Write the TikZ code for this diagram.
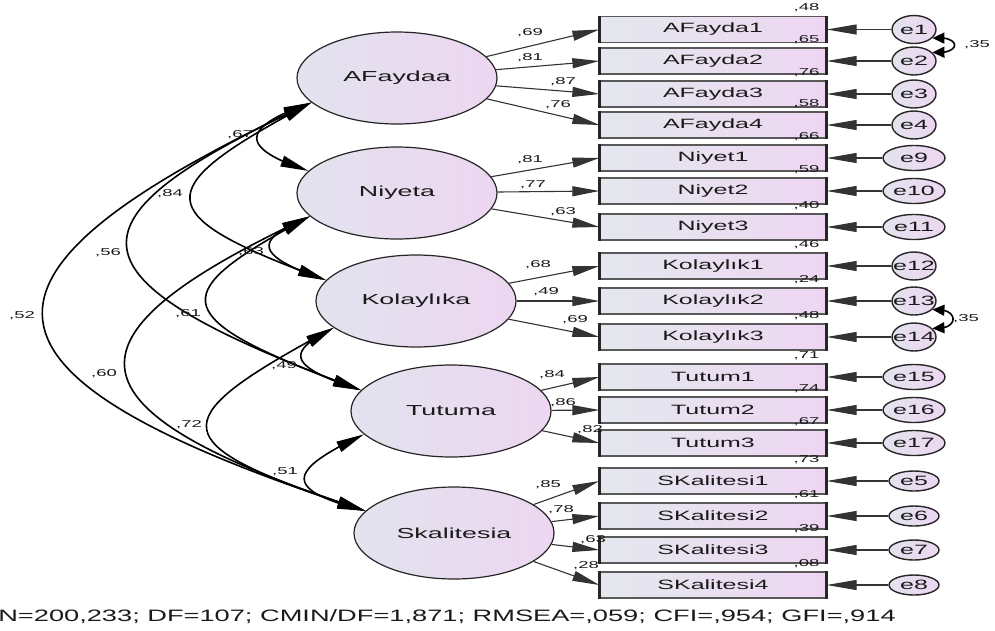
\documentclass[tikz,border=0pt]{standalone}
\usepackage{fontspec}
\usepackage{tikz}
\usetikzlibrary{arrows.meta,bending,shapes.geometric}
\newfontfamily\amos[FakeStretch=1.85]{Liberation Sans}
\newfontfamily\amosfoot[FakeStretch=1.65]{Liberation Sans}
\definecolor{latL}{HTML}{E2E3EE}
\definecolor{latR}{HTML}{EDD6F1}
\definecolor{boxL}{HTML}{E4E8EE}
\definecolor{boxR}{HTML}{EED6F2}
\definecolor{ink}{HTML}{1A1A1A}
\tikzset{
  latent/.style = {ellipse, draw=black!85, line width=1.2pt, inner sep=0pt,
                   minimum width=200pt, minimum height=92pt,
                   left color=latL, right color=latR, text=ink,
                   font=\amos\fontsize{14.5}{16}\selectfont},
  obsbox/.style = {rectangle, draw=black!65, line width=1.3pt, inner sep=0pt,
                   minimum width=226pt, minimum height=26pt,
                   left color=boxL, right color=boxR, text=ink,
                   font=\amos\fontsize{13.5}{15}\selectfont},
  errn/.style   = {ellipse, draw=black!85, line width=1.4pt, inner sep=0pt,
                   minimum width=44pt, minimum height=28pt,
                   left color=latL, right color=latR, text=ink,
                   font=\amos\fontsize{13.5}{15}\selectfont},
  errw/.style   = {errn, minimum width=62pt, minimum height=25pt},
  errs/.style   = {errn, minimum width=50pt, minimum height=20pt},
  lbl/.style    = {inner sep=0pt, text=ink, font=\amos\fontsize{10}{11}\selectfont},
  load/.style   = {-{Triangle[length=27pt,width=10pt]}, line width=1.1pt, draw=black!80},
  errarr/.style = {-{Triangle[length=30pt,width=10pt]}, line width=1.1pt, draw=black!80},
  cov/.style    = {{Triangle[length=28pt,width=11pt]}-{Triangle[length=28pt,width=11pt]},
                   line width=1.6pt},
  ecov/.style   = {{Triangle[length=12pt,width=11pt]}-{Triangle[length=12pt,width=11pt]},
                   line width=1.6pt},
}
\begin{document}
\begin{tikzpicture}[x=1pt, y=-1pt]
\useasboundingbox (0,0) rectangle (995,630);
% ---------------- latent variables ----------------
\node[latent] (AF) at (397,78)  {AFaydaa};
\node[latent] (NI) at (397,193) {Niyeta};
\node[latent] (KO) at (416,301) {Kolaylıka};
\node[latent] (TU) at (451,411) {Tutuma};
\node[latent] (SK) at (454,533) {Skalitesia};
% ---------------- indicators, errors, squared correlations ----------------
\foreach \id/\yy/\obs/\en/\sq/\es in {
    A1/29.5/AFayda1/e1/48/errn, A2/61/AFayda2/e2/65/errn,
    A3/94/AFayda3/e3/76/errn, A4/125/AFayda4/e4/58/errn,
    N1/158/Niyet1/e9/66/errw, N2/191/Niyet2/e10/59/errw, N3/227/Niyet3/e11/40/errw,
    K1/266/Kolaylık1/e12/46/errn, K2/301/Kolaylık2/e13/24/errn,
    K3/337/Kolaylık3/e14/48/errn,
    T1/377/Tutum1/e15/71/errw, T2/410/Tutum2/e16/74/errw, T3/443/Tutum3/e17/67/errw,
    S1/481/SKalitesi1/e5/73/errs, S2/516/SKalitesi2/e6/61/errs,
    S3/550/SKalitesi3/e7/39/errs, S4/585/SKalitesi4/e8/08/errs}{
  \node[obsbox] (\id) at (713,\yy) {\obs};
  \draw[line width=2.4pt, black!85] (\id.north west) -- (\id.south west)
                                    (\id.north east) -- (\id.south east);
  \node[\es] (e\id) at (914,\yy) {\makebox[0pt]{\en}};
  \draw[errarr] (e\id) -- (\id.east);
  \node[lbl, anchor=base east] (s\id) at ([xshift=-7pt,yshift=5pt]\id.north east) {,\sq};
}
% ---------------- loadings ----------------
\foreach \lat/\id/\lx/\ly/\v in {
    AF/A1/530/33/69, AF/A2/530/58/81, AF/A3/563/82/87, AF/A4/558/105/76,
    NI/N1/530/160/81, NI/N2/533/185/77, NI/N3/563/212/63,
    KO/K1/538/265/68, KO/K2/546/292/49, KO/K3/575/320/69,
    TU/T1/552/375/84, TU/T2/563/403/86, TU/T3/590/430/82,
    SK/S1/548/485/85, SK/S2/561/510/78, SK/S3/593/540/63, SK/S4/586/566/28}{
  \draw[load] (\lat) -- (\id.west);
  \node[lbl] (l\id) at (\lx,\ly) {,\v};
}
% ---------------- factor covariances ----------------
\draw[cov] (AF.196) .. controls (239,128) and (239,148) .. (NI.166);
\draw[cov] (AF.196) .. controls (147,190) and (147,214) .. (KO.167);
\draw[cov] (AF.196) .. controls (57,221) and (57,278) .. (TU.167);
\draw[cov] (AF.196) .. controls (-56,274) and (-56,374) .. (SK.166);
\draw[cov] (NI.195) .. controls (253,240) and (253,255) .. (KO.167);
\draw[cov] (NI.195) .. controls (163,295) and (163,317) .. (TU.167);
\draw[cov] (NI.195) .. controls (54,336) and (54,409) .. (SK.166);
\draw[cov] (KO.198) .. controls (286,352) and (286,366) .. (TU.167);
\draw[cov] (KO.198) .. controls (159,422) and (159,443) .. (SK.166);
\draw[cov] (TU.195) .. controls (284,472) and (284,490) .. (SK.166);
\node[lbl] (c67) at (240,135) {,67};
\node[lbl] (c84) at (170,194) {,84};
\node[lbl] (c56) at (108,253) {,56};
\node[lbl] (c52) at (22,316)  {,52};
\node[lbl] (c63) at (251,252) {,63};
\node[lbl] (c61) at (188,314) {,61};
\node[lbl] (c60) at (104,374) {,60};
\node[lbl] (c49) at (284,366) {,49};
\node[lbl] (c72) at (189,425) {,72};
\node[lbl] (c51) at (285,472) {,51};
% ---------------- error covariances ----------------
\draw[ecov] (eA1.-25) .. controls (962,35) and (962,55) .. (eA2.25);
\node[lbl] (c35a) at (977,45) {,35};
\draw[ecov] (eK2.-25) .. controls (960,307) and (960,331) .. (eK3.25);
\node[lbl] (c35b) at (966,319) {,35};
% ---------------- fit indices ----------------
\node[inner sep=0pt, text=ink, font=\amosfoot\fontsize{16.5}{18}\selectfont]
     (fit) at (447,617) {N=200,233; DF=107; CMIN/DF=1,871; RMSEA=,059; CFI=,954; GFI=,914};
\end{tikzpicture}
\end{document}
